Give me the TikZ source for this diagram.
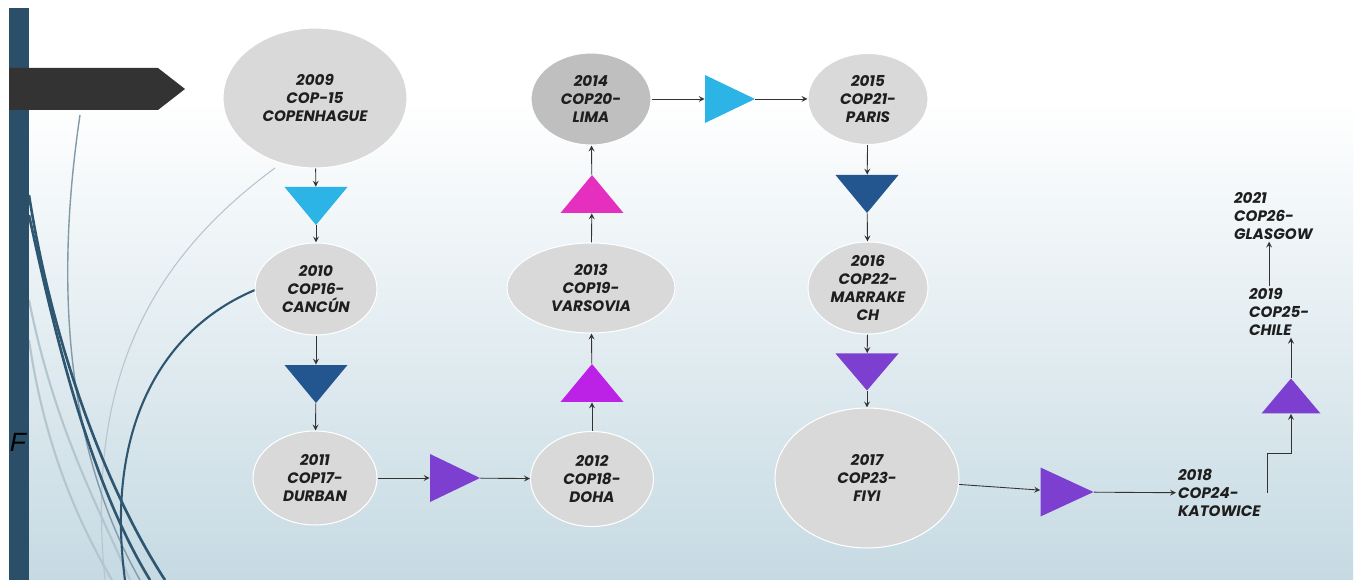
\documentclass[tikz,border=0pt]{standalone}
\usepackage{fontspec}
\setsansfont{Poppins}
\newfontfamily\letterfont{Liberation Sans}
\usetikzlibrary{shapes.geometric,arrows}

\definecolor{barblue}{HTML}{2B4F68}
\definecolor{signgray}{HTML}{333333}
\definecolor{bgblue}{HTML}{C6DAE3}
\definecolor{copgray}{HTML}{D9D9D9}
\definecolor{limagray}{HTML}{BFBFBF}
\definecolor{copink}{HTML}{1E1E1E}
\definecolor{linkgray}{HTML}{333333}
\definecolor{cyantri}{HTML}{2DB4E6}
\definecolor{navytri}{HTML}{23558F}
\definecolor{purpletri}{HTML}{7D3FCF}
\definecolor{violettri}{HTML}{BB22E6}
\definecolor{magentatri}{HTML}{E52FBF}
\definecolor{curvedark}{HTML}{2F5670}
\definecolor{curvelight}{HTML}{B3C6D0}

\newcommand\copfont{\sffamily\bfseries\itshape\fontsize{8.6}{10.2}\selectfont}

\begin{document}
\begin{tikzpicture}[
    x=0.02cm, y=-0.02cm,
    >=stealth,
    cop/.style={ellipse, fill=copgray, draw=white, line width=0.6pt, inner sep=0pt, align=center, font=\copfont, text=copink},
    plain/.style={anchor=west, align=left, inner sep=1pt, font=\copfont, text=copink},
    tri/.style={rectangle, inner sep=0pt, minimum width=1.26cm, minimum height=0.76cm},
    tridown/.style={tri, path picture={\fill[#1] (path picture bounding box.north west) -- (path picture bounding box.north east) -- (path picture bounding box.south) -- cycle;}},
    triup/.style={tri, path picture={\fill[#1] (path picture bounding box.south west) -- (path picture bounding box.south east) -- (path picture bounding box.north) -- cycle;}},
    triright/.style={tri, minimum width=1.0cm, minimum height=0.96cm, path picture={\fill[#1] (path picture bounding box.north west) -- (path picture bounding box.east) -- (path picture bounding box.south west) -- cycle;}},
    link/.style={->, draw=linkgray, line width=0.5pt},
]
\useasboundingbox (0,0) rectangle (1360,580);

% Background
\fill[white] (0,0) rectangle (1360,580);
\shade[top color=white, bottom color=bgblue] (9,100) rectangle (1353,580);

% Decorative curves
\draw[curvelight, line width=0.6pt] (275,168) .. controls (150,260) and (85,380) .. (105,580);
\draw[curvelight, line width=1.2pt] (29,300) .. controls (55,430) and (100,510) .. (130,580);
\draw[curvelight, line width=1.2pt] (29,340) .. controls (45,450) and (80,525) .. (112,580);
\draw[curvedark!60, line width=0.8pt] (80,115) .. controls (60,250) and (55,430) .. (140,580);
\draw[curvedark, line width=1.5pt] (29,195) .. controls (50,330) and (100,480) .. (165,580);
\draw[curvedark, line width=1.5pt] (29,215) .. controls (60,360) and (95,490) .. (150,580);
\draw[curvedark, line width=1.2pt] (255,290) .. controls (160,330) and (105,430) .. (125,580);

% Post and sign
\fill[barblue] (9,8) rectangle (29,580);
\fill[signgray] (9,68) -- (158,68) -- (185,89) -- (158,110) -- (9,110) -- cycle;
\node[font=\letterfont\itshape\fontsize{15}{15}\selectfont, inner sep=0pt] (fmark) at (18,442) {F};

% COP nodes
\node[cop, minimum width=3.68cm, minimum height=2.80cm] (cop15) at (315,98) {2009\\COP-15\\COPENHAGUE};
\node[tridown=cyantri] (t1) at (316,206) {};
\node[cop, minimum width=2.44cm, minimum height=1.84cm] (cop16) at (316,289) {2010\\COP16-\\CANCÚN};
\node[tridown=navytri] (t2) at (316,384) {};
\node[cop, minimum width=2.48cm, minimum height=1.88cm] (cop17) at (315,478) {2011\\COP17-\\DURBAN};
\node[triright=purpletri] (t3) at (455,478) {};
\node[cop, minimum width=2.46cm, minimum height=1.90cm] (cop18) at (592,479) {2012\\COP18-\\DOHA};
\node[triup=violettri] (t4) at (592,383) {};
\node[cop, minimum width=3.36cm, minimum height=1.80cm] (cop19) at (591,288) {2013\\COP19-\\VARSOVIA};
\node[triup=magentatri] (t5) at (592,194) {};
\node[cop, fill=limagray, minimum width=2.40cm, minimum height=1.84cm] (cop20) at (591,99) {2014\\COP20-\\LIMA};
\node[triright=cyantri] (t6) at (730,99) {};
\node[cop, minimum width=2.40cm, minimum height=1.82cm] (cop21) at (868,99) {2015\\COP21-\\PARIS};
\node[tridown=navytri] (t7) at (867,194) {};
\node[cop, minimum width=2.40cm, minimum height=1.80cm] (cop22) at (868,288) {2016\\COP22-\\MARRAKE\\CH};
\node[tridown=purpletri, minimum height=0.74cm] (t8) at (867,372) {};
\node[cop, minimum width=3.68cm, minimum height=2.80cm] (cop23) at (867,478) {2017\\COP23-\\FIYI};
\node[triright=purpletri, minimum width=1.06cm, minimum height=0.98cm] (t9) at (1067,492) {};
\node[plain] (cop24) at (1176,493) {2018\\COP24-\\KATOWICE};
\node[triup=purpletri, minimum width=1.18cm, minimum height=0.70cm] (t10) at (1291,396) {};
\node[plain] (cop25) at (1247,312) {2019\\COP25-\\CHILE};
\node[plain] (cop26) at (1232,216) {2021\\COP26-\\GLASGOW};

% Arrows
\draw[link] (cop15) -- (t1);
\draw[link] (t1) -- (cop16);
\draw[link] (cop16) -- (t2);
\draw[link] (t2) -- (cop17);
\draw[link] (cop17) -- (t3);
\draw[link] (t3) -- (cop18);
\draw[link] (cop18) -- (t4);
\draw[link] (t4) -- (cop19);
\draw[link] (cop19) -- (t5);
\draw[link] (t5) -- (cop20);
\draw[link] (cop20) -- (t6);
\draw[link] (t6) -- (cop21);
\draw[link] (cop21) -- (t7);
\draw[link] (t7) -- (cop22);
\draw[link] (cop22) -- (t8);
\draw[link] (t8) -- (cop23);
\draw[link] (cop23) -- (t9);
\draw[link] (t9) -- (cop24);
\draw[link] ([xshift=0.1cm]cop24.east) -- ++(0,-40) -| (t10.south);
\draw[link] (t10.north) -- (t10.north |- cop25.south);
\coordinate (c25top) at ([xshift=-0.2cm]cop25.north);
\draw[link] (c25top) -- (c25top |- cop26.south);

\end{tikzpicture}
\end{document}
